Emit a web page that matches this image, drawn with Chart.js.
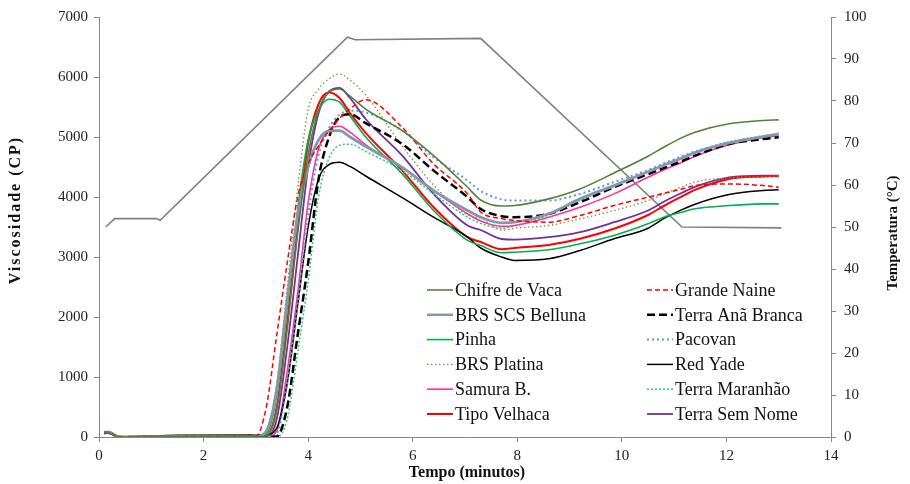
<!DOCTYPE html>
<html>
<head>
<meta charset="utf-8">
<script src="https://cdn.jsdelivr.net/npm/chart.js@4.4.1/dist/chart.umd.min.js"></script>
<style>
body { margin: 0; background: #fff; }
#wrap { width: 910px; height: 484px; }
</style>
</head>
<body>
<div id="wrap"><canvas id="myChart" width="910" height="484"></canvas></div>
<script>
// time points (minutes) shared by all viscosity curves
const tempo = [0.1, 0.2, 0.3, 0.4, 1.5, 2.8, 3.0, 3.2, 3.4, 3.6, 3.8, 4.0, 4.2, 4.4, 4.6, 4.8,
  5.1, 5.8, 6.4, 7.05, 7.3, 7.7, 7.95, 8.6, 9.2, 9.85, 10.5, 10.8, 11.15, 11.4, 12.05, 12.7, 13.0];

// viscosity (cP)
const chifreDeVaca   = [70,70,20,0,10,15, 5,20,450,1800,3400,4700,5450,5750,5800,5680, 5465,5105,4689,4162,3950,3850,3858,3969,4135,4400,4680,4830,4990,5080,5220,5275,5285];
const grandeNaine    = [80,80,30,0,10,15, 10,500,1700,2900,4000,4550,4850,5100,5310,5470, 5620,5160,4551,4052,3750,3640,3608,3580,3691,3858,3996,4060,4135,4190,4218,4190,4162];
const brsScsBelluna  = [80,80,30,0,10,15, 5,100,800,2300,3700,4500,4950,5100,5105,5000, 4840,4494,4107,3775,3664,3570,3580,3720,3969,4190,4420,4530,4650,4740,4900,5005,5050];
const terraAnaBranca = [70,70,20,0,5,10, 0,0,10,500,1700,2900,4300,5000,5330,5380, 5230,4883,4440,3996,3800,3680,3664,3719,3913,4162,4380,4480,4600,4690,4883,4967,4994];
const pinha          = [70,70,20,0,10,15, 5,50,700,2150,3800,4950,5450,5630,5580,5350, 5000,4385,3775,3276,3190,3070,3080,3120,3220,3359,3553,3664,3747,3803,3858,3886,3886];
const pacovan        = [60,60,20,0,5,10, 0,0,60,900,2200,3700,4700,5150,5370,5437, 5410,5105,4661,4273,4100,3960,3941,3941,4052,4250,4450,4560,4680,4760,4910,5000,5040];
const brsPlatina     = [70,70,20,0,10,15, 10,100,900,2500,4150,5450,5800,5970,6050,5950, 5700,4850,4200,3700,3650,3450,3480,3525,3636,3775,3940,4050,4170,4250,4320,4340,4350];
const redYade        = [70,70,25,5,30,35, 30,40,150,900,2200,3500,4300,4540,4578,4510, 4350,3990,3664,3331,3150,3000,2943,2971,3109,3304,3480,3640,3790,3880,4040,4107,4120];
const samuraB        = [70,70,20,0,10,15, 0,5,100,1100,2400,3900,4800,5120,5180,5080, 4870,4494,4107,3719,3600,3510,3525,3664,3830,4052,4330,4450,4580,4680,4870,4990,5020];
const terraMaranhao  = [60,60,20,0,5,10, 0,0,0,300,1400,2600,4000,4650,4860,4880, 4760,4440,4052,3664,3560,3480,3520,3700,3940,4180,4420,4530,4650,4750,4920,5020,5060];
const tipoVelhaca    = [80,80,30,0,10,15, 5,20,500,1900,3500,4900,5550,5740,5650,5400, 5070,4440,3830,3331,3250,3130,3150,3200,3304,3470,3700,3850,4010,4120,4301,4340,4345];
const terraSemNome   = [80,80,30,0,10,15, 5,10,300,1500,3000,4500,5400,5760,5820,5650, 5300,4689,4052,3525,3450,3300,3290,3330,3414,3580,3775,3920,4070,4170,4328,4357,4357];

// temperature profile (°C)
const tempoTemp = [0.13, 0.3, 1.1, 1.17, 4.75, 4.9, 7.3, 11.15, 13.05];
const temperatura = [50, 52, 52, 51.6, 95.2, 94.6, 94.9, 50, 49.8];

const xTicks = [0, 2, 4, 6, 8, 10, 12, 14];

const serif = '"Liberation Serif", "Times New Roman", serif';

function pts(xs, ys) {
  return xs.map((x, i) => ({ x: x, y: ys[i] }));
}

function curve(label, values, color, width, dash) {
  return {
    label: label,
    data: pts(tempo, values),
    borderColor: color,
    borderWidth: width,
    borderDash: dash || [],
    pointRadius: 0,
    fill: false,
    cubicInterpolationMode: 'monotone',
    yAxisID: 'y'
  };
}

const datasets = [
  curve('Chifre de Vaca', chifreDeVaca, '#548235', 1.6),
  curve('Grande Naine', grandeNaine, '#ff0000', 1.5, [5, 3]),
  curve('BRS SCS Belluna', brsScsBelluna, '#8497b0', 2.8),
  curve('Terra Anã Branca', terraAnaBranca, '#000000', 2.5, [8, 4]),
  curve('Pinha', pinha, '#00b050', 1.6),
  curve('Pacovan', pacovan, '#5b9bd5', 2, [2, 3]),
  curve('BRS Platina', brsPlatina, '#77933c', 1.3, [1.5, 2.5]),
  curve('Red Yade', redYade, '#000000', 1.5),
  curve('Samura B.', samuraB, '#ff3399', 1.6),
  curve('Terra Maranhão', terraMaranhao, '#2ecc71', 1.5, [2, 2]),
  curve('Tipo Velhaca', tipoVelhaca, '#ff0000', 2),
  curve('Terra Sem Nome', terraSemNome, '#7030a0', 1.8),
  {
    label: 'Temperatura',
    data: pts(tempoTemp, temperatura),
    borderColor: '#808080',
    borderWidth: 1.6,
    pointRadius: 0,
    tension: 0,
    fill: false,
    yAxisID: 'y2'
  }
];

// legend inside the plot + axis titles
const extras = {
  id: 'extras',
  afterDraw(chart) {
    const ctx = chart.ctx;
    ctx.save();
    ctx.font = '18px ' + serif;
    ctx.textBaseline = 'middle';
    ctx.fillStyle = '#111';
    chart.data.datasets.forEach((ds, i) => {
      if (ds.yAxisID !== 'y') return;
      const col = i % 2, row = Math.floor(i / 2);
      const x = col === 0 ? 427 : 647;
      const y = 290 + row * 24.8;
      ctx.strokeStyle = ds.borderColor;
      ctx.lineWidth = Math.min(ds.borderWidth, 2.5);
      ctx.setLineDash(ds.borderDash);
      ctx.beginPath();
      ctx.moveTo(x, y);
      ctx.lineTo(x + 26, y);
      ctx.stroke();
      ctx.setLineDash([]);
      ctx.fillText(ds.label, x + 28, y + 1);
    });

    ctx.font = 'bold 16px ' + serif;
    ctx.textAlign = 'center';
    ctx.fillText('Tempo (minutos)', 467, 473);

    ctx.letterSpacing = '2px';
    ctx.translate(16, 210);
    ctx.rotate(-Math.PI / 2);
    ctx.fillText('Viscosidade (CP)', 0, 0);
    ctx.restore();

    ctx.save();
    ctx.font = 'bold 15px ' + serif;
    ctx.fillStyle = '#111';
    ctx.textAlign = 'center';
    ctx.textBaseline = 'middle';
    ctx.translate(893, 233);
    ctx.rotate(-Math.PI / 2);
    ctx.fillText('Temperatura (°C)', 0, 0);
    ctx.restore();
  }
};

const axisGrid = { display: true, drawOnChartArea: false, drawTicks: true, tickLength: 5, color: '#888' };
const plain = (v) => String(v);

const ctx = document.getElementById('myChart').getContext('2d');
const myChart = new Chart(ctx, {
  type: 'line',
  data: { datasets: datasets },
  options: {
    responsive: false,
    animation: false,
    layout: { padding: { top: 16, left: 0, right: 0, bottom: 0 } },
    plugins: { legend: { display: false }, tooltip: { enabled: false } },
    scales: {
      x: {
        type: 'linear', min: 0, max: 14,
        afterBuildTicks: (s) => { s.ticks = xTicks.map(v => ({ value: v })); },
        afterFit: (s) => { s.height = 47; },
        grid: axisGrid,
        border: { color: '#888' },
        ticks: { font: { family: serif, size: 15 }, color: '#222', padding: 5, callback: plain }
      },
      y: {
        position: 'left', min: 0, max: 7000,
        afterFit: (s) => { s.width = 99; },
        grid: axisGrid,
        border: { color: '#888' },
        ticks: { stepSize: 1000, font: { family: serif, size: 15 }, color: '#222', padding: 6, callback: plain }
      },
      y2: {
        position: 'right', min: 0, max: 100,
        afterFit: (s) => { s.width = 79; },
        grid: axisGrid,
        border: { color: '#888' },
        ticks: { stepSize: 10, font: { family: serif, size: 15 }, color: '#222', padding: 8, callback: plain }
      }
    }
  },
  plugins: [extras]
});
</script>
</body>
</html>
